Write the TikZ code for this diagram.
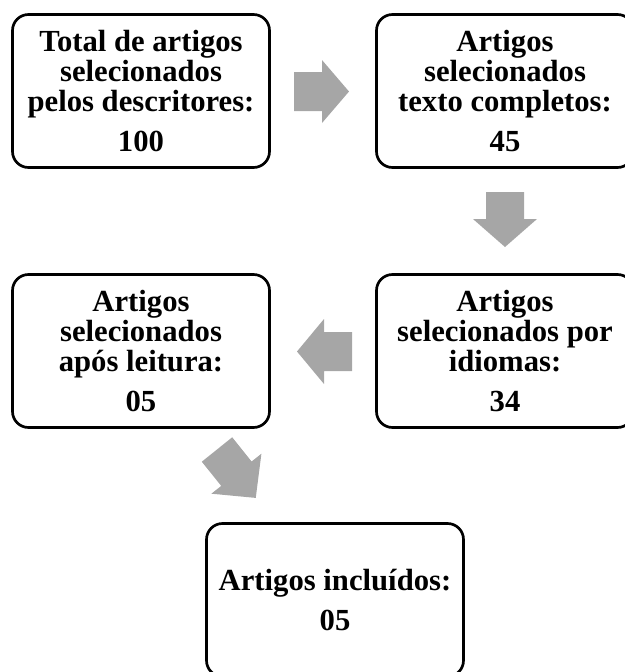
\documentclass[tikz,border=0pt]{standalone}
\usepackage{fontspec}
\setmainfont{Liberation Serif}
\definecolor{arrowgray}{HTML}{A6A6A6}
\begin{document}
\begin{tikzpicture}[x=0.75pt,y=-0.75pt,
  stagebox/.style={draw=black, line width=2pt, rounded corners=12pt,
    minimum width=192.75pt, minimum height=114.75pt, inner sep=0pt,
    align=center, text=black,
    font=\fontsize{23}{22.5}\selectfont\bfseries},
  blockarrow/.style={fill=arrowgray, draw=none}]
\useasboundingbox (0,0) rectangle (625,672);
\node[stagebox] (total) at (141,91) {Total de artigos\\selecionados\\pelos descritores:\\[7.5pt]100};
\node[stagebox] (texto) at (505,91) {Artigos\\selecionados\\texto completos:\\[7.5pt]45};
\node[stagebox] (leitura) at (141,351) {Artigos\\selecionados\\após leitura:\\[7.5pt]05};
\node[stagebox] (idiomas) at (505,351) {Artigos\\selecionados por\\idiomas:\\[7.5pt]34};
\node[stagebox] (incl) at (335,600) {Artigos incluídos:\\[7.5pt]05};
% right arrow
\fill[blockarrow] (294,72) -- (322,72) -- (322,60) -- (349,91.5) -- (322,123) -- (322,111) -- (294,111) -- cycle;
% down arrow
\fill[blockarrow] (486,192) -- (524,192) -- (524,219) -- (537,219) -- (505,247) -- (473,219) -- (486,219) -- cycle;
% left arrow
\fill[blockarrow] (352,332) -- (324,332) -- (324,319) -- (297,351.5) -- (324,384) -- (324,371) -- (352,371) -- cycle;
% diagonal arrow
\fill[blockarrow] (232.2,437.3) -- (251.6,461.5) -- (261.4,453.7) -- (255.75,497.9) -- (211.4,493.7) -- (221.2,485.9) -- (201.8,461.7) -- cycle;
\end{tikzpicture}
\end{document}
